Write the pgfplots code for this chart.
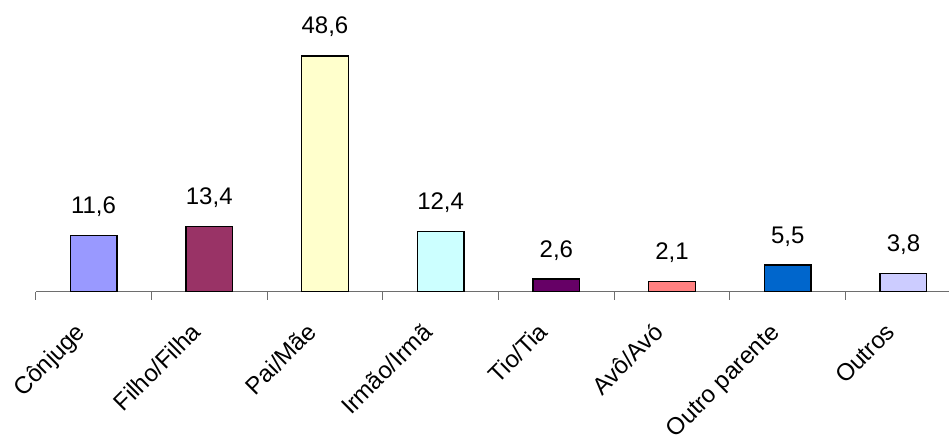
\documentclass[border=0pt]{standalone}
\usepackage{fontspec}
\setmainfont{Liberation Sans}
\usepackage{pgfplots}
\pgfplotsset{compat=1.18}

\definecolor{cConjuge}{HTML}{9999FF}
\definecolor{cFilho}{HTML}{993366}
\definecolor{cPai}{HTML}{FFFFCC}
\definecolor{cIrmao}{HTML}{CCFFFF}
\definecolor{cTio}{HTML}{660066}
\definecolor{cAvo}{HTML}{FF8080}
\definecolor{cOutroP}{HTML}{0066CC}
\definecolor{cOutros}{HTML}{CCCCFF}
\definecolor{axisgray}{HTML}{6E6E6E}

\begin{document}
\begin{tikzpicture}
\begin{axis}[
  at={(0pt,0pt)}, anchor=south west,
  scale only axis,
  width=925.6pt, height=291pt,
  xmin=-0.5, xmax=7.5,
  ymin=0, ymax=60,
  axis y line=none,
  axis x line=bottom,
  x axis line style={-, draw=axisgray, line width=1pt},
  xtick={0,1,2,3,4,5,6,7},
  xticklabels={Cônjuge,Filho/Filha,Pai/Mãe,Irmão/Irmã,Tio/Tia,Avô/Avó,Outro parente,Outros},
  major tick length=0pt,
  minor xtick={-0.5,0.5,1.5,2.5,3.5,4.5,5.5,6.5,7.5},
  minor tick length=8pt,
  tick align=outside,
  minor tick style={draw=axisgray, line width=1pt},
  xticklabel style={xshift=-9pt, yshift=-40pt, rotate=45, anchor=east, inner sep=0pt,
    text height=0.75em, text depth=0.2em, font=\fontsize{24}{28}\selectfont},
  ybar, bar width=46.7pt, bar shift=0pt,
  every axis plot/.append style={draw=black, line width=1.3pt},
  nodes near coords,
  /pgf/number format/.cd, use comma, fixed, fixed zerofill, precision=1, assume math mode=true,
  /pgfplots/.cd,
  nodes near coords style={anchor=base, yshift=22pt, inner sep=0pt,
    font=\fontsize{24}{28}\selectfont, text=black},
  clip=false,
]
\addplot[fill=cConjuge] coordinates {(0,11.6)};
\addplot[fill=cFilho]   coordinates {(1,13.4)};
\addplot[fill=cPai]     coordinates {(2,48.6)};
\addplot[fill=cIrmao]   coordinates {(3,12.4)};
\addplot[fill=cTio]     coordinates {(4,2.6)};
\addplot[fill=cAvo]     coordinates {(5,2.1)};
\addplot[fill=cOutroP]  coordinates {(6,5.5)};
\addplot[fill=cOutros]  coordinates {(7,3.8)};
\end{axis}
\pgfresetboundingbox
\path[use as bounding box] (-35.7pt,-145.3pt) rectangle (913.3pt,291.7pt);
\end{tikzpicture}
\end{document}
